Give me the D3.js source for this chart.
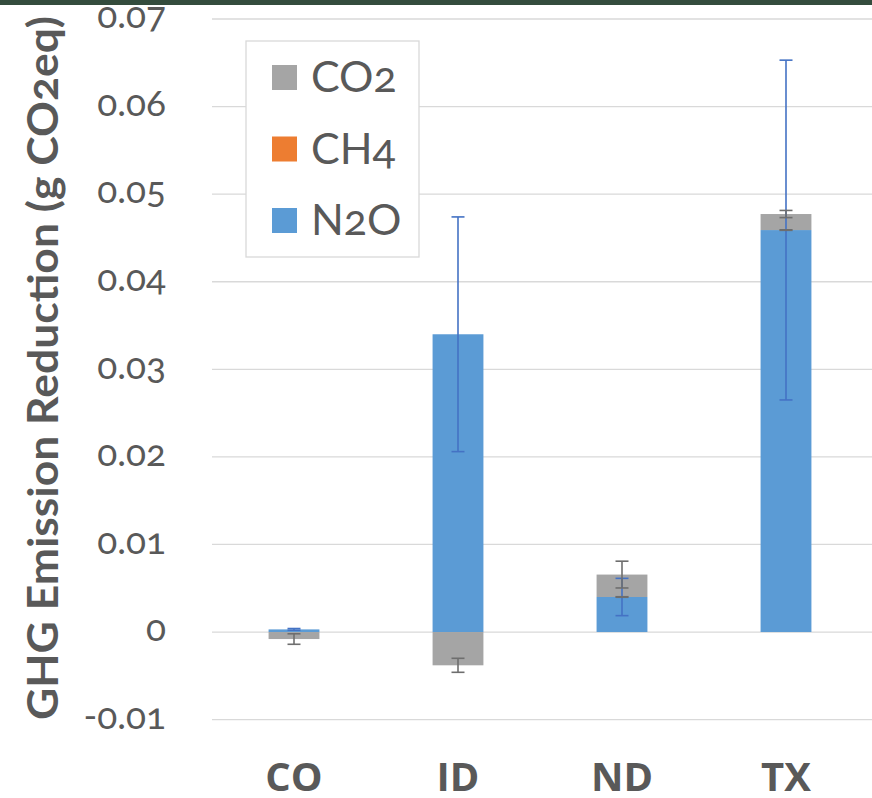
<!DOCTYPE html>
<html>
<head>
<meta charset="utf-8">
<script src="https://cdn.jsdelivr.net/npm/d3@7"></script>
<style>
  body { margin: 0; background: #fff; }
  svg { display: block; }
  .num { font-family: Lato, 'Noto Sans', sans-serif; font-variant-numeric: oldstyle-nums; font-feature-settings: 'onum' 1; }
</style>
</head>
<body>
<svg width="872" height="798"></svg>
<script>
var categories = ['CO', 'ID', 'ND', 'TX'];
var seriesNames = ['N2O', 'CH4', 'CO2'];           // stacking order, bottom to top
var legendNames = ['CO2', 'CH4', 'N2O'];
var n2o = [0.0003, 0.0340, 0.0040, 0.0459];
var ch4 = [0, 0, 0, 0];
var co2 = [-0.0008, -0.0038, 0.00256, 0.00183];
var n2oErr = [0.0001, 0.0134, 0.00213, 0.0194];
var ch4Err = [0, 0, 0.00003, 0.00003];
var co2Err = [0.0006, 0.0008, 0.00153, 0.00041];
var yTicks = [-0.01, 0, 0.01, 0.02, 0.03, 0.04, 0.05, 0.06, 0.07];
var yTickLabels = ['-0.01', '0', '0.01', '0.02', '0.03', '0.04', '0.05', '0.06', '0.07'];

var colors = { CO2: '#a5a5a5', CH4: '#ed7d31', N2O: '#5b9bd5' };
var errColors = { CO2: '#6e6e6e', CH4: '#6e6e6e', N2O: '#4472c4' };
var values = { N2O: n2o, CH4: ch4, CO2: co2 };
var errors = { N2O: n2oErr, CH4: ch4Err, CO2: co2Err };

var svg = d3.select('svg');
var width = +svg.attr('width');

// dark band along the top edge
svg.append('rect').attr('x', 0).attr('y', 0).attr('width', width).attr('height', 5).attr('fill', '#344c3d');

var x = d3.scaleBand()
  .domain(categories)
  .range([212, 868])
  .paddingInner(0.69)
  .paddingOuter(0.345);

var y = d3.scaleLinear()
  .domain([-0.01, 0.07])
  .range([719.6, 19]);

// gridlines
svg.append('g')
  .selectAll('line')
  .data(yTicks)
  .enter().append('line')
  .attr('x1', 212)
  .attr('x2', width)
  .attr('y1', function (d) { return y(d); })
  .attr('y2', function (d) { return y(d); })
  .attr('stroke', '#d9d9d9')
  .attr('stroke-width', 1.3);

// y tick labels
svg.append('g')
  .selectAll('text')
  .data(yTicks)
  .enter().append('text')
  .attr('class', 'num')
  .attr('x', 166)
  .attr('y', function (d) { return y(d); })
  .attr('dy', '0.25em')
  .attr('text-anchor', 'end')
  .attr('font-size', 37)
  .attr('fill', '#595959')
  .text(function (d, i) { return yTickLabels[i]; });

// axis title
svg.append('text')
  .attr('class', 'num')
  .attr('transform', 'translate(58,368) rotate(-90)')
  .attr('text-anchor', 'middle')
  .attr('font-weight', 'bold')
  .attr('font-size', 42)
  .attr('textLength', 704)
  .attr('lengthAdjust', 'spacingAndGlyphs')
  .attr('fill', '#595959')
  .text('GHG Emission Reduction (g CO2eq)');

// stacked bars
var table = categories.map(function (c, i) {
  var row = { cat: c };
  seriesNames.forEach(function (s) { row[s] = values[s][i]; });
  return row;
});

var stacked = d3.stack()
  .keys(seriesNames)
  .offset(d3.stackOffsetDiverging)(table);

var bars = svg.append('g');
stacked.forEach(function (layer) {
  bars.append('g')
    .selectAll('rect')
    .data(layer)
    .enter().append('rect')
    .attr('x', function (d) { return x(d.data.cat); })
    .attr('width', x.bandwidth())
    .attr('y', function (d) { return y(d[1]); })
    .attr('height', function (d) { return Math.max(0, y(d[0]) - y(d[1])); })
    .attr('fill', colors[layer.key]);
});

// error bars at the end of each segment (zero segments sit on top of the positive stack)
var errG = svg.append('g');
categories.forEach(function (c, i) {
  var pos = 0, neg = 0;
  var cx = x(c) + x.bandwidth() / 2;
  seriesNames.forEach(function (s) {
    var v = values[s][i];
    var end;
    if (v < 0) { neg += v; end = neg; } else { pos += v; end = pos; }
    var e = errors[s][i];
    if (!e) return;
    var g = errG.append('g').attr('stroke', errColors[s]).attr('stroke-width', 1.6);
    g.append('line').attr('x1', cx).attr('x2', cx).attr('y1', y(end + e)).attr('y2', y(end - e));
    [end + e, end - e].forEach(function (t) {
      g.append('line').attr('x1', cx - 6.5).attr('x2', cx + 6.5).attr('y1', y(t)).attr('y2', y(t));
    });
  });
});

// category labels
svg.append('g')
  .selectAll('text')
  .data(categories)
  .enter().append('text')
  .attr('x', function (d) { return x(d) + x.bandwidth() / 2; })
  .attr('y', 791)
  .attr('text-anchor', 'middle')
  .attr('font-family', "'Open Sans', sans-serif")
  .attr('font-weight', 'bold')
  .attr('font-size', 40)
  .attr('fill', '#595959')
  .text(function (d) { return d; });

// legend
var legend = svg.append('g');
legend.append('rect')
  .attr('x', 246).attr('y', 41).attr('width', 173).attr('height', 216)
  .attr('fill', '#fff').attr('stroke', '#d9d9d9').attr('stroke-width', 1.3);
legendNames.forEach(function (name, i) {
  var ly = 65 + i * 71.5;
  legend.append('rect')
    .attr('x', 272).attr('y', ly).attr('width', 25).attr('height', 25)
    .attr('fill', colors[name]);
  legend.append('text')
    .attr('class', 'num')
    .attr('x', 311).attr('y', ly + 27)
    .attr('font-size', 43)
    .attr('fill', '#595959')
    .text(name);
});
</script>
</body>
</html>
